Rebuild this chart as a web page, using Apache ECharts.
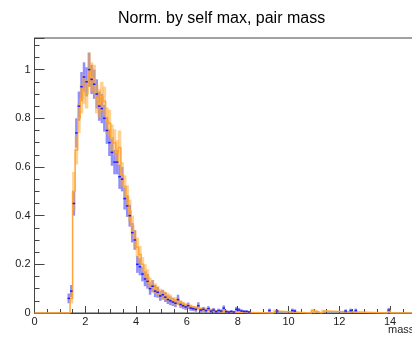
<!DOCTYPE html>
<html>
<head>
<meta charset="utf-8">
<script src="https://cdn.jsdelivr.net/npm/echarts@6/dist/echarts.min.js"></script>
<style>html,body{margin:0;padding:0;background:#fff;overflow:hidden;}#c{width:412px;height:338px;}</style>
</head>
<body>
<div id="c"></div>
<script>
// ---- data ----
const binWidth = 0.1;
const blueStart = 1.3;
const blueVals = [0.06,0.09,0.45,0.74,0.85,0.93,0.97,0.95,1.00,0.96,0.94,0.90,0.85,0.84,0.80,0.75,0.70,0.66,0.62,0.62,0.56,0.55,0.47,0.44,0.40,0.33,0.30,0.20,0.19,0.16,0.14,0.13,0.10,0.11,0.09,0.085,0.07,0.075,0.065,0.055,0.05,0.045,0.04,0.055,0.035,0.03,0.025,0.03,0.02,0.018,0.015,0.03,0.012,0.015,0.01,0.018,0.008,0.012,0.006,0.01,0.008,0.02,0.006,0.004,0.006,0.004,0.015,0.012,0.008,0.006,0.006,0.004];
const blueErr = [0.02,0.025,0.05,0.06,0.06,0.06,0.06,0.06,0.07,0.06,0.06,0.06,0.06,0.06,0.055,0.055,0.055,0.055,0.05,0.05,0.05,0.05,0.045,0.045,0.045,0.04,0.04,0.035,0.035,0.03,0.03,0.03,0.025,0.025,0.025,0.022,0.02,0.02,0.02,0.018,0.018,0.016,0.016,0.02,0.014,0.013,0.012,0.013,0.011,0.01,0.01,0.014,0.009,0.01,0.008,0.01,0.007,0.009,0.006,0.008,0.007,0.011,0.006,0.005,0.006,0.005,0.01,0.009,0.007,0.006,0.006,0.005];
const blueTailX = [9.2,9.5,10.1,10.2,12.2,12.4,12.6,13.9];
const blueTailY = [0.01,0.008,0.01,0.008,0.008,0.01,0.01,0.012];
const blueTailErr = [0.008,0.007,0.008,0.007,0.007,0.008,0.008,0.009];

const orangeStart = 1.4;
const orangeVals = [0.06,0.50,0.67,0.80,0.88,0.92,0.90,1.00,0.97,0.96,0.88,0.86,0.89,0.87,0.79,0.78,0.72,0.70,0.66,0.68,0.57,0.52,0.48,0.42,0.36,0.30,0.27,0.24,0.20,0.17,0.15,0.12,0.11,0.10,0.09,0.08,0.075,0.07,0.065,0.06,0.05,0.05,0.045,0.04,0.035,0.03,0.03,0.025,0.02,0.02,0.02,0.015,0.012,0.015,0.01,0.012,0.01,0.008,0.01,0.006,0.008,0.006,0.005,0.004,0.005,0.003,0.004,0.003,0.004,0.002,0.002];
const orangeErr = [0.02,0.08,0.06,0.06,0.06,0.06,0.06,0.07,0.06,0.06,0.06,0.06,0.06,0.06,0.055,0.055,0.055,0.055,0.05,0.07,0.05,0.045,0.045,0.045,0.04,0.04,0.04,0.035,0.03,0.03,0.03,0.025,0.025,0.022,0.02,0.02,0.02,0.018,0.018,0.016,0.015,0.015,0.014,0.013,0.012,0.011,0.011,0.01,0.009,0.009,0.009,0.008,0.007,0.008,0.006,0.007,0.006,0.005,0.006,0.005,0.005,0.005,0.004,0.004,0.004,0.003,0.004,0.003,0.004,0.003,0.003];
const orangeTailX = [9.4,10.9,11.0,11.3,13.9];
const orangeTailY = [0.008,0.01,0.008,0.008,0.01];
const orangeTailErr = [0.006,0.007,0.006,0.006,0.007];

const xMin = 0, xMax = 16, yMin = 0, yMax = 1.13;
const xTickStep = 2, yTickStep = 0.2;

// ---- build series data ----
const blueBins = [];
blueVals.forEach((v, i) => blueBins.push([blueStart + i * binWidth, v, blueErr[i]]));
blueTailX.forEach((x, i) => blueBins.push([x, blueTailY[i], blueTailErr[i]]));

const orangeBins = [];
orangeVals.forEach((v, i) => orangeBins.push([orangeStart + i * binWidth, v, orangeErr[i]]));
orangeTailX.forEach((x, i) => orangeBins.push([x, orangeTailY[i], orangeTailErr[i]]));

const orangeStep = [[xMin, 0]];
orangeVals.forEach((v, i) => orangeStep.push([orangeStart + i * binWidth, v]));
orangeStep.push([orangeStart + orangeVals.length * binWidth, 0]);
orangeTailX.forEach((x, i) => { orangeStep.push([x, orangeTailY[i]]); orangeStep.push([x + binWidth, 0]); });
orangeStep.push([xMax, 0]);

function errRender(color, width) {
  return function (params, api) {
    const x = api.value(0) + binWidth / 2, y = api.value(1), e = api.value(2);
    const p1 = api.coord([x, Math.max(0, y - e)]);
    const p2 = api.coord([x, y + e]);
    return { type: 'line', shape: { x1: p1[0], y1: p1[1], x2: p2[0], y2: p2[1] },
      style: { stroke: color, lineWidth: width } };
  };
}
function hRender(color, width) {
  return function (params, api) {
    const x = api.value(0), y = api.value(1);
    const p1 = api.coord([x, y]);
    const p2 = api.coord([x + binWidth, y]);
    return { type: 'line', shape: { x1: p1[0], y1: p1[1], x2: p2[0], y2: p2[1] },
      style: { stroke: color, lineWidth: width } };
  };
}

const chart = echarts.init(document.getElementById('c'), null, { renderer: 'canvas' });
chart.setOption({
  animation: false,
  backgroundColor: '#fff',
  title: {
    text: 'Norm. by self max, pair mass',
    left: 113, top: 6,
    textStyle: { fontFamily: 'Liberation Sans', fontSize: 16, fontWeight: 'normal', color: '#000' }
  },
  graphic: [{
    type: 'text', left: 388, top: 324,
    style: { text: 'mass', font: '11px "Liberation Sans"', fill: '#222' }
  }],
  grid: { left: 34.5, top: 38, width: 406.4, height: 275, containLabel: false, outerBoundsMode: 'none',
    show: true, borderColor: '#444', borderWidth: 1, backgroundColor: 'transparent' },
  xAxis: {
    type: 'value', min: xMin, max: xMax, interval: xTickStep,
    axisLine: { onZero: false, lineStyle: { color: '#444', width: 1 } },
    axisTick: { inside: true, length: 7, lineStyle: { color: '#444' } },
    minorTick: { show: true, splitNumber: 4, length: 4, lineStyle: { color: '#444' } },
    splitLine: { show: false },
    axisLabel: { fontFamily: 'Liberation Sans', fontSize: 11, color: '#222', margin: 3 }
  },
  yAxis: {
    type: 'value', min: yMin, max: yMax, interval: yTickStep,
    axisLine: { show: true, lineStyle: { color: '#444', width: 1 } },
    axisTick: { inside: true, length: 10, lineStyle: { color: '#444' } },
    minorTick: { show: true, splitNumber: 4, length: 5, lineStyle: { color: '#444' } },
    splitLine: { show: false },
    axisLabel: {
      fontFamily: 'Liberation Sans', fontSize: 11, color: '#222', margin: 4,
      formatter: function (v) {
        const k = Math.round(v / yTickStep);
        if (Math.abs(v - k * yTickStep) > 1e-6) return '';
        return String(Math.round(v * 10) / 10);
      }
    }
  },
  series: [
    { type: 'custom', name: 'blueErr', data: blueBins, renderItem: errRender('rgba(30,30,255,0.5)', 2.5), z: 2, clip: true },
    { type: 'custom', name: 'orangeErr', data: orangeBins, renderItem: errRender('rgba(255,165,40,0.5)', 3.5), z: 3, clip: true },
    { type: 'line', name: 'orange', data: orangeStep, step: 'end', symbol: 'none',
      lineStyle: { color: '#ffa53a', width: 1.5 }, z: 4, clip: true },
    { type: 'custom', name: 'blue', data: blueBins, renderItem: hRender('#1a1aff', 1.5), z: 5, clip: true }
  ]
});
</script>
</body>
</html>
